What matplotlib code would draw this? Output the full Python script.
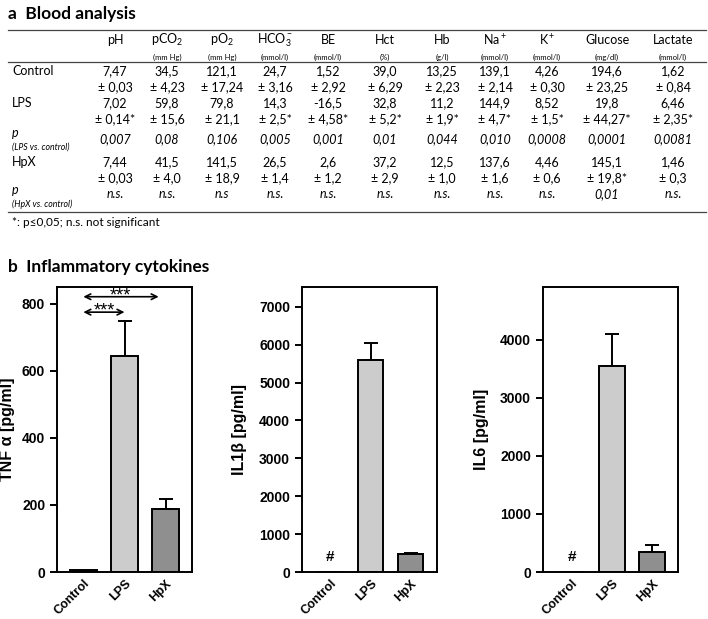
import matplotlib
matplotlib.use('Agg')
import matplotlib.pyplot as plt

plt.rcParams['font.family'] = ['Lato', 'DejaVu Sans']
plt.rcParams['mathtext.fontset'] = 'custom'
plt.rcParams['mathtext.rm'] = 'Lato'
plt.rcParams['mathtext.it'] = 'Lato:italic'
plt.rcParams['mathtext.bf'] = 'Lato:bold'

# ---- table data (panel a) ----
params = ['pH', 'pCO$_2$', 'pO$_2$', 'HCO$_3^-$', 'BE', 'Hct', 'Hb', 'Na$^+$', 'K$^+$', 'Glucose', 'Lactate']
units = ['', '(mm Hg)', '(mm Hg)', '(mmol/l)', '(mmol/l)', '(%)', '(g/l)', '(mmol/l)', '(mmol/l)', '(mg/dl)', '(mmol/l)']
ctrl_mean = ['7,47', '34,5', '121,1', '24,7', '1,52', '39,0', '13,25', '139,1', '4,26', '194,6', '1,62']
ctrl_sd = ['0,03', '4,23', '17,24', '3,16', '2,92', '6,29', '2,23', '2,14', '0,30', '23,25', '0,84']
lps_mean = ['7,02', '59,8', '79,8', '14,3', '-16,5', '32,8', '11,2', '144,9', '8,52', '19,8', '6,46']
lps_sd = ['0,14*', '15,6', '21,1', '2,5*', '4,58*', '5,2*', '1,9*', '4,7*', '1,5*', '44,27*', '2,35*']
p_lps = ['0,007', '0,08', '0,106', '0,005', '0,001', '0,01', '0,044', '0,010', '0,0008', '0,0001', '0,0081']
hpx_mean = ['7,44', '41,5', '141,5', '26,5', '2,6', '37,2', '12,5', '137,6', '4,46', '145,1', '1,46']
hpx_sd = ['0,03', '4,0', '18,9', '1,4', '1,2', '2,9', '1,0', '1,6', '0,6', '19,8*', '0,3']
p_hpx = ['n.s.', 'n.s.', 'n.s', 'n.s.', 'n.s.', 'n.s.', 'n.s.', 'n.s.', 'n.s.', '0,01', 'n.s.']

# ---- cytokine data (panel b) ----
groups = ['Control', 'LPS', 'HpX']
tnf = [5, 645, 188]
tnf_err = [0, 104, 30]
il1b = [0, 5600, 475]
il1b_err = [0, 450, 15]
il6 = [0, 3550, 345]
il6_err = [0, 550, 120]

W, H = 708, 619
fig = plt.figure(figsize=(W / 100, H / 100), dpi=100)


def ftext(x, y, s, **kw):
    kw.setdefault('va', 'center')
    fig.text(x / W, 1 - y / H, s, **kw)


def hline(y, x0=8, x1=706, lw=0.9):
    fig.add_artist(plt.Line2D([x0 / W, x1 / W], [1 - y / H, 1 - y / H],
                              color='#444444', lw=lw, transform=fig.transFigure))


# panel a
ftext(8, 14, 'a  Blood analysis', fontsize=12.5, fontweight='bold')
hline(30)
hline(62)
hline(212)

colx = [115, 167, 222, 275, 328, 385, 442, 495, 547, 607, 673]
fs = 9
for i, x in enumerate(colx):
    ftext(x, 40, params[i], ha='center', fontsize=fs)
    ftext(x, 57, units[i], ha='center', fontsize=5.5)
    ftext(x, 71, ctrl_mean[i], ha='center', fontsize=fs)
    ftext(x, 87, '± ' + ctrl_sd[i], ha='center', fontsize=fs)
    ftext(x, 103, lps_mean[i], ha='center', fontsize=fs)
    ftext(x, 119, '± ' + lps_sd[i], ha='center', fontsize=fs)
    ftext(x, 139, p_lps[i], ha='center', fontsize=fs, style='italic')
    ftext(x, 162, hpx_mean[i], ha='center', fontsize=fs)
    ftext(x, 178, '± ' + hpx_sd[i], ha='center', fontsize=fs)
    ftext(x, 194, p_hpx[i], ha='center', fontsize=fs, style='italic')

ftext(12, 71, 'Control', fontsize=fs)
ftext(12, 103, 'LPS', fontsize=fs)
ftext(12, 133, 'p', fontsize=fs, style='italic')
ftext(12, 147, '(LPS vs. control)', fontsize=6.3, style='italic')
ftext(12, 162, 'HpX', fontsize=fs)
ftext(12, 190, 'p', fontsize=fs, style='italic')
ftext(12, 204, '(HpX vs. control)', fontsize=6.3, style='italic')
ftext(12, 223, '*: p≤0,05; n.s. not significant', fontsize=8.5)

ftext(8, 267, 'b  Inflammatory cytokines', fontsize=12.5, fontweight='bold')

# panel b
colors = ['#555555', '#cccccc', '#8f8f8f']
cfg = [
    (57, tnf, tnf_err, 850, [0, 200, 400, 600, 800], 'TNF α [pg/ml]', -0.31, (-0.64, 2.64)),
    (302, il1b, il1b_err, 7520, [0, 1000, 2000, 3000, 4000, 5000, 6000, 7000], 'IL1β [pg/ml]', -0.41, (-0.71, 2.66)),
    (543, il6, il6_err, 4910, [0, 1000, 2000, 3000, 4000], 'IL6 [pg/ml]', -0.40, (-0.72, 2.64)),
]
axes = []
for left, vals, errs, ymax, ticks, lab, lx, xl in cfg:
    ax = fig.add_axes([left / W, (H - 572) / H, 135 / W, 285 / H])
    axes.append(ax)
    x = list(range(len(groups)))
    ax.bar(x, vals, width=0.64, color=colors, edgecolor='black', linewidth=1.4, zorder=2)
    ax.errorbar(x[1:], vals[1:], yerr=[[0, 0], errs[1:]], fmt='none', ecolor='black',
                elinewidth=1.4, capsize=5, capthick=1.4, zorder=1)
    ax.set_xlim(*xl)
    ax.set_ylim(0, ymax)
    ax.set_yticks(ticks)
    ax.set_xticks(x)
    ax.set_xticklabels(groups, rotation=45, ha='right', rotation_mode='anchor',
                       fontsize=9, fontweight='bold', family='Liberation Sans')
    for t in ax.get_yticklabels():
        t.set_fontsize(10)
        t.set_fontweight('bold')
        t.set_family('Liberation Sans')
    ax.tick_params(axis='x', length=0, pad=4)
    ax.tick_params(axis='y', length=5, width=1.4, direction='out')
    for s in ax.spines.values():
        s.set_linewidth(1.4)
    ax.set_ylabel(lab, fontsize=11.5, fontweight='bold', family='Liberation Sans')
    ax.yaxis.set_label_coords(lx, 0.5)

# significance arrows on TNF panel
ax = axes[0]
ax.annotate('', xy=(0, 775), xytext=(1, 775),
            arrowprops=dict(arrowstyle='<->', lw=1.2, color='black', shrinkA=0, shrinkB=0))
ax.text(0.52, 779, '***', ha='center', va='center', fontsize=13, family='Liberation Sans')
ax.annotate('', xy=(0, 821), xytext=(1.83, 821),
            arrowprops=dict(arrowstyle='<->', lw=1.2, color='black', shrinkA=0, shrinkB=0))
ax.text(0.9, 824, '***', ha='center', va='center', fontsize=13, family='Liberation Sans')

# "#" marks for undetectable control values
for ax in axes[1:]:
    ax.annotate('#', (0, 0), xytext=(0, 6), textcoords='offset points',
                ha='center', va='bottom', fontsize=11, fontweight='bold', family='Liberation Sans')

fig.savefig('out.png', dpi=100)
